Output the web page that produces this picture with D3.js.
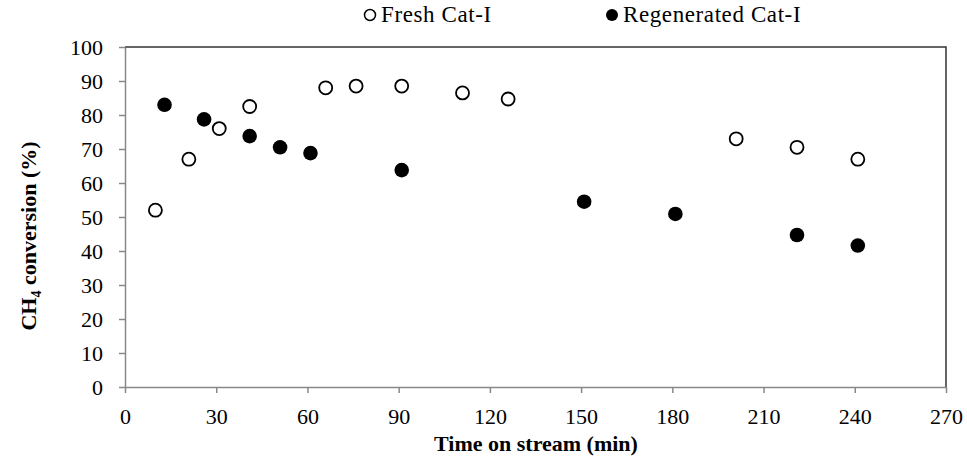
<!DOCTYPE html>
<html>
<head>
<meta charset="utf-8">
<script src="https://cdn.jsdelivr.net/npm/d3@7"></script>
<style>
  body { margin: 0; background: #fff; }
  text { font-family: "Liberation Serif", "DejaVu Serif", serif; fill: #000; }
</style>
</head>
<body>
<svg id="chart" width="967" height="461"></svg>
<script>
// Time on stream (min) and CH4 conversion (%)
let freshTime = [10, 21, 31, 41, 66, 76, 91, 111, 126, 201, 221, 241];
let freshConv = [52, 67, 76, 82.5, 88, 88.5, 88.5, 86.5, 84.7, 73, 70.5, 67];
let regenTime = [13, 26, 41, 51, 61, 91, 151, 181, 221, 241];
let regenConv = [83, 78.7, 73.8, 70.5, 68.8, 63.8, 54.5, 50.9, 44.7, 41.6];
let xTicks = [0, 30, 60, 90, 120, 150, 180, 210, 240, 270];
let yTicks = [0, 10, 20, 30, 40, 50, 60, 70, 80, 90, 100];

let svg = d3.select("#chart");
let plotLeft = 125, plotRight = 946, plotTop = 47, plotBottom = 387;

let x = d3.scaleLinear().domain([0, 270]).range([plotLeft, plotRight]);
let y = d3.scaleLinear().domain([0, 100]).range([plotBottom, plotTop]);

// frame on top and right
svg.append("path")
    .attr("d", `M ${plotLeft} ${plotTop} H ${plotRight} V ${plotBottom}`)
    .attr("fill", "none")
    .attr("stroke", "#333")
    .attr("stroke-width", 1.5);

let xAxis = svg.append("g")
    .attr("transform", "translate(0," + plotBottom + ")")
    .call(d3.axisBottom(x).tickValues(xTicks).tickSize(6).tickSizeOuter(0).tickPadding(15));
let yAxis = svg.append("g")
    .attr("transform", "translate(" + plotLeft + ",0)")
    .call(d3.axisLeft(y).tickValues(yTicks).tickSize(6).tickSizeOuter(0).tickPadding(16));

[xAxis, yAxis].forEach(function(a) {
    a.select(".domain").attr("stroke", "#888").attr("stroke-width", 1.5);
    a.selectAll(".tick line").attr("stroke", "#888").attr("stroke-width", 1.5);
    a.selectAll(".tick text")
        .attr("font-family", "Liberation Serif, serif")
        .attr("font-size", 22)
        .attr("fill", "#000");
});

// axis titles
svg.append("text")
    .attr("x", 536).attr("y", 451)
    .attr("text-anchor", "middle")
    .attr("font-size", 22).attr("font-weight", "bold")
    .text("Time on stream (min)");

let yTitle = svg.append("text")
    .attr("transform", "translate(36,236) rotate(-90)")
    .attr("text-anchor", "middle")
    .attr("font-size", 22).attr("font-weight", "bold");
yTitle.append("tspan").text("CH");
yTitle.append("tspan").attr("font-size", 14).attr("dy", 5).text("4");
yTitle.append("tspan").attr("dy", -5).text(" conversion (%)");

// points
let fresh = freshTime.map((t, i) => ({t: t, c: freshConv[i]}));
let regen = regenTime.map((t, i) => ({t: t, c: regenConv[i]}));

svg.selectAll("circle.fresh")
    .data(fresh)
    .enter().append("circle")
    .attr("class", "fresh")
    .attr("cx", d => x(d.t))
    .attr("cy", d => y(d.c))
    .attr("r", 6.5)
    .attr("fill", "#fff")
    .attr("stroke", "#000")
    .attr("stroke-width", 1.8);

svg.selectAll("circle.regen")
    .data(regen)
    .enter().append("circle")
    .attr("class", "regen")
    .attr("cx", d => x(d.t))
    .attr("cy", d => y(d.c))
    .attr("r", 7.3)
    .attr("fill", "#000");

// legend
let legend = [
    {label: "Fresh Cat-I", open: true, x: 370},
    {label: "Regenerated Cat-I", open: false, x: 612}
];
let lg = svg.selectAll("g.legend")
    .data(legend)
    .enter().append("g")
    .attr("class", "legend")
    .attr("transform", d => "translate(" + d.x + ",15)");
lg.append("circle")
    .attr("r", d => d.open ? 5.5 : 6)
    .attr("fill", d => d.open ? "#fff" : "#000")
    .attr("stroke", "#000")
    .attr("stroke-width", d => d.open ? 1.5 : 0);
lg.append("text")
    .attr("x", 11).attr("y", 7)
    .attr("font-size", 23)
    .attr("letter-spacing", 0.6)
    .text(d => d.label);
</script>
</body>
</html>
